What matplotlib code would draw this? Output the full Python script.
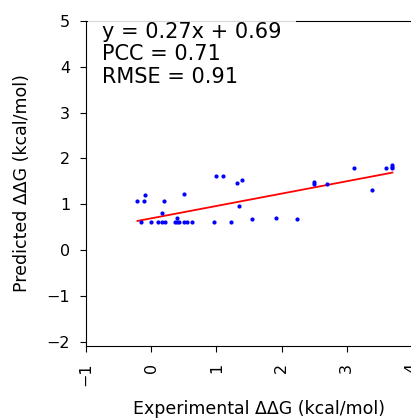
import numpy as np
import matplotlib
matplotlib.use("Agg")
import matplotlib.pyplot as plt

# experimental vs predicted ddG
exp_ddg = [-0.21, -0.11, -0.09, -0.16, -0.01, 0.10, 0.16, 0.21, 0.17, 0.19,
           0.37, 0.40, 0.43, 0.40, 0.50, 0.55, 0.50, 0.63, 0.97, 1.00,
           1.10, 1.23, 1.32, 1.40, 1.35, 1.55, 1.91, 2.24, 2.50, 2.50,
           2.70, 3.11, 3.39, 3.60, 3.70, 3.70, 3.70]
pred_ddg = [1.06, 1.06, 1.21, 0.60, 0.60, 0.60, 0.60, 0.60, 0.81, 1.06,
            0.60, 0.60, 0.60, 0.70, 0.60, 0.60, 1.22, 0.60, 0.60, 1.62,
            1.62, 0.62, 1.46, 1.52, 0.95, 0.67, 0.70, 0.67, 1.48, 1.43,
            1.44, 1.78, 1.30, 1.78, 1.86, 1.82, 1.78]

slope, intercept = 0.27, 0.69
pcc, rmse = 0.71, 0.91

fig = plt.figure(figsize=(4.11, 4.2), dpi=100)
ax = fig.add_axes([0.2092, 0.176, 0.8408, 0.774])

x = np.array(exp_ddg)
ax.scatter(x, pred_ddg, s=4, color='blue', zorder=3)
xs = np.array([x.min(), x.max()])
ax.plot(xs, slope * xs + intercept, color='red', lw=1.3, zorder=2)

ax.set_xlim(-1, 4.3)
ax.set_ylim(-2.1, 5)
ax.set_xticks([-1, 0, 1, 2, 3, 4])
ax.set_yticks([-2, -1, 0, 1, 2, 3, 4, 5])
ax.tick_params(axis='x', labelrotation=90, labelsize=11.5, length=4.5, pad=7.5)
ax.tick_params(axis='y', labelsize=11.5, length=4.5, pad=7)

ax.set_xlabel("Experimental ΔΔG (kcal/mol)", fontsize=12.5, labelpad=9.5)
ax.set_ylabel("Predicted ΔΔG (kcal/mol)", fontsize=12.5, labelpad=11)

txt = f"y = {slope:.2f}x + {intercept:.2f}\nPCC = {pcc:.2f}\nRMSE = {rmse:.2f}"
ax.text(-0.75, 4.98, txt, fontsize=15, va='top', ha='left', linespacing=1.16,
        bbox=dict(facecolor='white', edgecolor='none', alpha=0.85, pad=10.5),
        zorder=5, clip_on=False)

fig.savefig("out.png", dpi=100)
